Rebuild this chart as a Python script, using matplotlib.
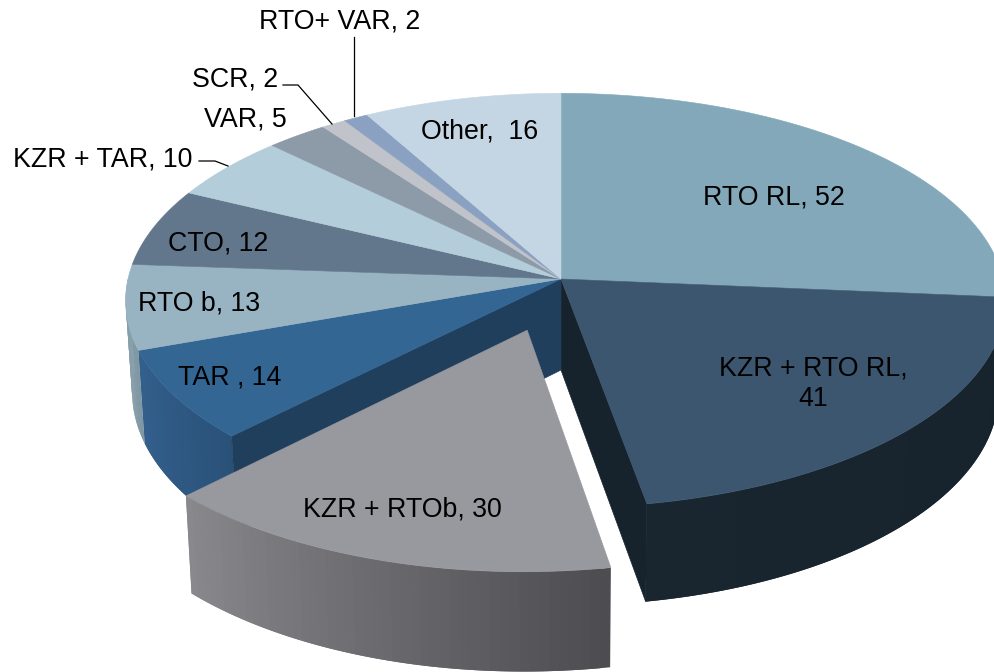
import numpy as np
import matplotlib
matplotlib.use("Agg")
import matplotlib.pyplot as plt
from matplotlib.patches import Polygon

plt.rcParams["font.family"] = ["Liberation Sans", "DejaVu Sans"]

# slices, clockwise from 12 o'clock
names = ["RTO RL", "KZR + RTO RL", "KZR + RTOb", "TAR ", "RTO b", "CTO",
         "KZR + TAR", "VAR", "SCR", "RTO+ VAR", "Other"]
counts = [52, 41, 30, 14, 13, 12, 10, 5, 2, 2, 16]
top_colors = ["#82A8B9", "#3C566F", "#98989F", "#346694", "#98B4C2", "#62778C",
              "#B4CDDA", "#8D9BA9", "#C1C3CB", "#8BA1C1", "#C4D6E3"]
wall_left = ["#6F8E9C", "#19262F", "#89898E", "#34608E", "#8AA2AE", "#55677A",
             "#9DB3BE", "#7B8793", "#A8AAB1", "#7A8DA9", "#AABAC6"]
wall_right = ["#1A2832", "#17232C", "#4D4C51", "#2A5279", "#7F97A3", "#55677A",
              "#9DB3BE", "#7B8793", "#A8AAB1", "#7A8DA9", "#AABAC6"]
exploded = "KZR + RTOb"

# label placement in figure pixels
label_xy = {"RTO RL": (774, 197), "KZR + RTO RL": (813, 384), "KZR + RTOb": (402, 509),
            "TAR ": (230, 378), "RTO b": (199, 303), "CTO": (218, 243),
            "KZR + TAR": (103, 159), "VAR": (245, 119), "SCR": (235, 80),
            "RTO+ VAR": (340, 22), "Other": (480, 132)}
leaders = [([283, 298, 332], [85, 85, 124]),
           ([354, 354], [37, 116]),
           ([199, 215, 228], [161, 161, 166])]

CX, CY = 561, 279
RX_RIGHT, RX_LEFT = 442, 433
RY = 205
PERSP = 0.104
EXPLODE = 0.255
WALL_DROP = 91
WALL_SX, WALL_SY = 0.985, 1.03


def project(theta, radius=1.0, shift=(0.0, 0.0)):
    """Angle on the disc (clockwise from the back) to picture pixels."""
    X = radius * np.sin(theta) + shift[0]
    Y = radius * np.cos(theta) + shift[1]
    s = 1 / (1 + PERSP * Y)
    rx = np.where(X > 0, RX_RIGHT, RX_LEFT)
    return CX + rx * X * s, CY - RY * Y * s


def drop(x, y):
    return CX + (x - CX) * WALL_SX, CY + (y - CY) * WALL_SY + WALL_DROP


def mix(c1, c2, t):
    a = np.array(matplotlib.colors.to_rgb(c1))
    b = np.array(matplotlib.colors.to_rgb(c2))
    return a + (b - a) * t


def draw_wall(ax, a0, a1, left, right, shift=(0.0, 0.0), z=1):
    # only the front half of the rim shows; each strip overlaps the next to hide seams
    a0c, a1c = max(a0, np.pi / 2), min(a1, 3 * np.pi / 2)
    if a1c <= a0c:
        return
    edges = np.linspace(a0c, a1c, 48)
    for i in range(len(edges) - 1):
        arc = np.linspace(edges[i], edges[min(i + 2, len(edges) - 1)], 4)
        xs, ys = project(arc, shift=shift)
        xb, yb = drop(xs, ys)
        t = (edges[i] - a0c) / (a1c - a0c)
        col = mix(right, left, t)
        ax.add_patch(Polygon(np.c_[np.r_[xs, xb[::-1]], np.r_[ys, yb[::-1]]],
                             facecolor=col, edgecolor="none", zorder=z))


def draw_cut(ax, theta, color, shift=(0.0, 0.0), z=2):
    x, y = project(np.array([theta]), shift=shift)
    x0, y0 = project(np.array([0.0]), radius=0.0, shift=shift)
    xb, yb = drop(x, y)
    xc, yc = drop(x0, y0)
    pts = [(x0[0], y0[0]), (x[0], y[0]), (xb[0], yb[0]), (xc[0], yc[0])]
    ax.add_patch(Polygon(pts, facecolor=color, edgecolor=color, lw=0.5, zorder=z))


def draw_top(ax, a0, a1, color, shift=(0.0, 0.0), z=3):
    arc = np.linspace(a0, a1, 80)
    xs, ys = project(arc, shift=shift)
    x0, y0 = project(np.array([0.0]), radius=0.0, shift=shift)
    pts = np.c_[np.r_[x0, xs], np.r_[y0, ys]]
    ax.add_patch(Polygon(pts, facecolor=color, edgecolor=color, lw=0.4, zorder=z))


fig = plt.figure(figsize=(9.94, 6.72), dpi=100)
ax = fig.add_axes([0, 0, 1, 1])
ax.set_xlim(0, 994)
ax.set_ylim(672, 0)
ax.axis("off")

cum = np.cumsum([0] + counts) / sum(counts) * 2 * np.pi
for i, name in enumerate(names):
    a0, a1 = cum[i], cum[i + 1]
    if name == exploded:
        mid = (a0 + a1) / 2
        shift = (EXPLODE * np.sin(mid), EXPLODE * np.cos(mid))
        draw_wall(ax, a0, a1, wall_left[i], wall_right[i], shift=shift, z=5)
        draw_top(ax, a0, a1, top_colors[i], shift=shift, z=6)
    else:
        draw_wall(ax, a0, a1, wall_left[i], wall_right[i])
        draw_top(ax, a0, a1, top_colors[i])

# faces left open by the pulled-out slice
k = names.index(exploded)
draw_cut(ax, cum[k], "#17232C")
draw_cut(ax, cum[k + 1], "#203F5C")

for name, n in zip(names, counts):
    x, y = label_xy[name]
    text = f"{name}, {n}"
    if name == "KZR + RTO RL":
        text = f"{name},\n{n}"
    if name == "Other":
        text = f"{name},  {n}"
    ax.text(x, y, text, ha="center", va="center", fontsize=19.3, color="black",
            linespacing=1.24, zorder=10)

for xs, ys in leaders:
    ax.plot(xs, ys, color="black", lw=0.9, zorder=9)

fig.savefig("out.png", dpi=100, facecolor="white")
plt.close(fig)
